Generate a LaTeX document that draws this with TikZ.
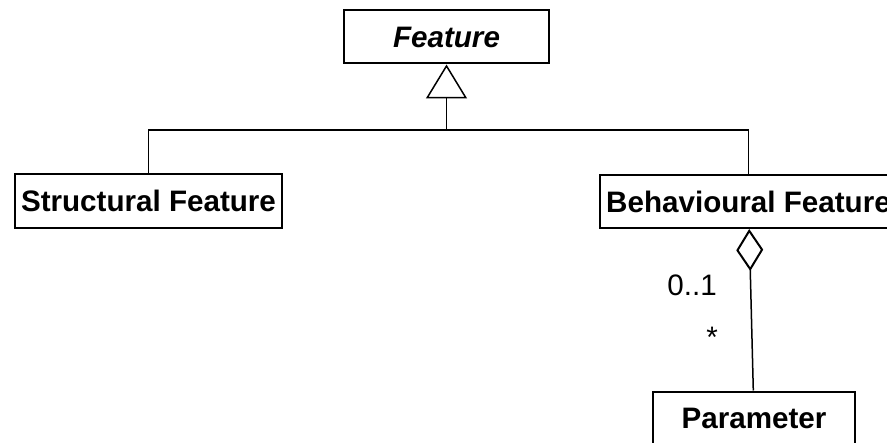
\documentclass[tikz,border=0pt]{standalone}
\usepackage{fontspec}
\setmainfont{Liberation Sans}
\usetikzlibrary{positioning,arrows.meta}

\begin{document}
\begin{tikzpicture}[x=0.5pt,y=-0.5pt,
  font=\fontsize{14.8}{17}\selectfont,
  cls/.style={draw,line width=1pt,minimum height=26.5pt,inner xsep=3pt,inner ysep=0pt,font=\fontsize{14.8}{17}\selectfont\bfseries},
  link/.style={line width=0.75pt},
  mult/.style={inner sep=0pt,anchor=base west}]
  \useasboundingbox (0,0) rectangle (887,443);
  % classes
  \node[cls,minimum width=102.5pt] (feat) at (446.5,37) {\itshape Feature};
  \node[cls,minimum width=133.5pt] (struct) at (148.5,201) {Structural Feature};
  \node[cls,minimum width=148.5pt] (behav) at (748.5,201.5) {Behavioural Feature};
  \node[cls,minimum width=101pt] (param) at (754,418) {Parameter};
  % generalisation
  \coordinate (hub) at (446.5,130);
  \draw[link] (struct) |- (hub) -| (behav);
  \draw[link,-{Triangle[open,length=17pt,width=20.5pt,line width=0.75pt]}] (hub) -- (feat);
  % aggregation
  \draw[link,-{Diamond[open,length=21pt,width=13.5pt,line width=1pt]}] (param) -- (behav);
  \node[mult] (m01) at (667,295) {0..1};
  \node[mult] (mstar) at (706,347) {*};
\end{tikzpicture}
\end{document}
